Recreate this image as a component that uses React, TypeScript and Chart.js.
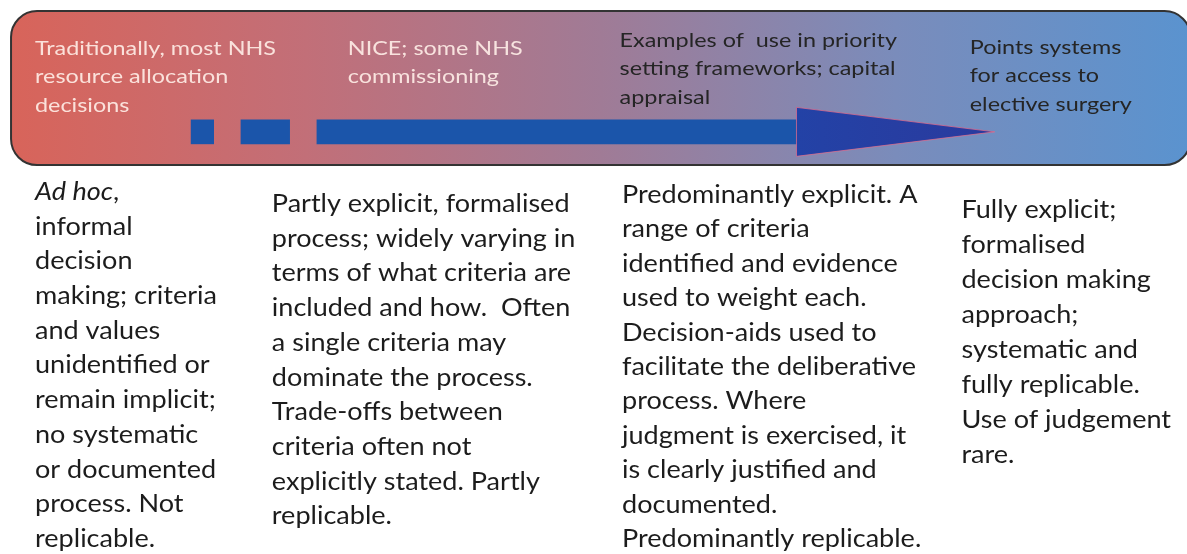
import React, { useEffect, useRef } from "react";
import { Chart, registerables } from "chart.js";

Chart.register(...registerables);

const CANVAS_W = 1187;
const CANVAS_H = 554;

// ---- Data (continuum units: 0 = implicit ... 100 = explicit; rows 0..100 top to bottom) ----
const stageTitles: string[][] = [
  ["Traditionally, most NHS", "resource allocation", "decisions"],
  ["NICE; some NHS", "commissioning"],
  ["Examples of  use in priority", "setting frameworks; capital", "appraisal"],
  ["Points systems", "for access to", "elective surgery"],
];

const stageDescriptions: string[][] = [
  [
    "Ad hoc,",
    "informal",
    "decision",
    "making; criteria",
    "and values",
    "unidentified or",
    "remain implicit;",
    "no systematic",
    "or documented",
    "process. Not",
    "replicable.",
  ],
  [
    "Partly explicit, formalised",
    "process; widely varying in",
    "terms of what criteria are",
    "included and how.  Often",
    "a single criteria may",
    "dominate the process.",
    "Trade-offs between",
    "criteria often not",
    "explicitly stated. Partly",
    "replicable.",
  ],
  [
    "Predominantly explicit. A",
    "range of criteria",
    "identified and evidence",
    "used to weight each.",
    "Decision-aids used to",
    "facilitate the deliberative",
    "process. Where",
    "judgment is exercised, it",
    "is clearly justified and",
    "documented.",
    "Predominantly replicable.",
  ],
  [
    "Fully explicit;",
    "formalised",
    "decision making",
    "approach;",
    "systematic and",
    "fully replicable.",
    "Use of judgement",
    "rare.",
  ],
];

const italicPrefix = "Ad hoc";

// arrow: dashed lead-in segments and shaft (floating bars on the continuum)
const arrowSegments: [number, number][] = [
  [16.1, 18.0],
  [20.3, 24.4],
  [26.7, 67.2],
];
const arrowHeadRange: [number, number] = [67.1, 83.8];
const arrowRow = 23.8;

// band spanning the continuum
const bandRange: [number, number] = [0.93, 100.3];
const bandRows: [number, number] = [2.0, 29.8];

// ---- Layout (positions of the text blocks, in scale units) ----
const titleX = [2.95, 29.3, 52.2, 81.7];
const titleRow = [9.93, 9.93, 8.48, 9.75];
const titleColors = ["rgba(255,238,232,0.9)", "rgba(255,238,232,0.9)", "#252525", "#252525"];
const descX = [2.95, 22.9, 52.4, 81.0];
const descRow = [36.1, 38.27, 36.64, 39.35];
const descLineH = [34.7, 34.7, 34.4, 35.0];

const FONT_FAMILY = "Lato, 'Open Sans', 'Noto Sans', sans-serif";

export default function App() {
  const ref = useRef<HTMLCanvasElement | null>(null);

  useEffect(() => {
    document.body.style.margin = "0";
    const canvas = ref.current;
    if (!canvas) return;

    const bandPlugin = {
      id: "band",
      beforeDatasetsDraw(chart: any) {
        const { ctx, scales } = chart;
        const x = scales.x;
        const y = scales.y;
        const x0 = x.getPixelForValue(bandRange[0]);
        const x1 = x.getPixelForValue(bandRange[1]);
        const y0 = y.getPixelForValue(bandRows[0]);
        const y1 = y.getPixelForValue(bandRows[1]);
        ctx.save();
        const g = ctx.createLinearGradient(x0, 0, x1, 0);
        g.addColorStop(0, "#d8645a");
        g.addColorStop(0.25, "#c26f78");
        g.addColorStop(0.5, "#a07b96");
        g.addColorStop(0.75, "#7a8cbb");
        g.addColorStop(1, "#5a93cf");
        ctx.beginPath();
        ctx.roundRect(x0, y0, x1 - x0, y1 - y0, 26);
        ctx.fillStyle = g;
        ctx.fill();
        ctx.lineWidth = 2;
        ctx.strokeStyle = "#333333";
        ctx.stroke();
        ctx.restore();
      },
    };

    const drawBlock = (
      ctx: CanvasRenderingContext2D,
      lines: string[],
      x: number,
      y: number,
      lh: number,
      size: number,
      color: string,
      sx: number
    ) => {
      lines.forEach((line, i) => {
        const yy = y + i * lh;
        ctx.save();
        ctx.translate(x, yy);
        ctx.scale(sx, 1);
        ctx.fillStyle = color;
        ctx.textBaseline = "alphabetic";
        ctx.textAlign = "left";
        if (line.startsWith(italicPrefix)) {
          ctx.font = `italic ${size}px ${FONT_FAMILY}`;
          ctx.fillText(italicPrefix, 0, 0);
          const w = ctx.measureText(italicPrefix).width;
          ctx.font = `${size}px ${FONT_FAMILY}`;
          ctx.fillText(line.slice(italicPrefix.length), w, 0);
        } else {
          ctx.font = `${size}px ${FONT_FAMILY}`;
          ctx.fillText(line, 0, 0);
        }
        ctx.restore();
      });
    };

    const overlayPlugin = {
      id: "overlay",
      afterDatasetsDraw(chart: any) {
        const { ctx, scales } = chart;
        const x = scales.x;
        const y = scales.y;
        ctx.save();
        // arrow head
        const hx0 = x.getPixelForValue(arrowHeadRange[0]);
        const hx1 = x.getPixelForValue(arrowHeadRange[1]);
        const cy = y.getPixelForValue(arrowRow);
        const half = 24.5;
        ctx.beginPath();
        ctx.moveTo(hx0, cy - half);
        ctx.lineTo(hx1, cy);
        ctx.lineTo(hx0, cy + half);
        ctx.closePath();
        const hg = ctx.createLinearGradient(hx0, 0, hx1, 0);
        hg.addColorStop(0, "#2342a6");
        hg.addColorStop(1, "#2a3a9e");
        ctx.fillStyle = hg;
        ctx.fill();
        ctx.lineWidth = 1;
        ctx.strokeStyle = "rgba(225,110,140,0.75)";
        ctx.stroke();

        // title texts on the band
        const titleSize = 20;
        ctx.font = `${titleSize}px ${FONT_FAMILY}`;
        const tsx = 241 / ctx.measureText("Traditionally, most NHS").width;
        stageTitles.forEach((lines, i) => {
          drawBlock(
            ctx,
            lines,
            x.getPixelForValue(titleX[i]),
            y.getPixelForValue(titleRow[i]),
            28.3,
            titleSize,
            titleColors[i],
            tsx
          );
        });

        // description texts
        const descSize = 25;
        ctx.font = `${descSize}px ${FONT_FAMILY}`;
        const dsx = 182 / ctx.measureText("making; criteria").width;
        stageDescriptions.forEach((lines, i) => {
          drawBlock(
            ctx,
            lines,
            x.getPixelForValue(descX[i]),
            y.getPixelForValue(descRow[i]),
            descLineH[i],
            descSize,
            "#1c1c1c",
            dsx
          );
        });
        ctx.restore();
      },
    };

    const chart = new Chart(canvas, {
      type: "bar",
      data: {
        datasets: [
          {
            data: arrowSegments.map((s) => ({ x: s, y: arrowRow })) as any,
            backgroundColor: "#1b55aa",
            borderWidth: 0,
            barThickness: 24,
          },
        ],
      },
      options: {
        indexAxis: "y",
        responsive: false,
        animation: false,
        devicePixelRatio: 1,
        layout: { padding: 0 },
        plugins: {
          legend: { display: false },
          tooltip: { enabled: false },
        },
        scales: {
          x: { type: "linear", min: 0, max: 100, display: false, offset: false },
          y: { type: "linear", min: 0, max: 100, reverse: true, display: false, offset: false },
        },
      },
      plugins: [bandPlugin, overlayPlugin],
    });

    return () => chart.destroy();
  }, []);

  return (
    <div style={{ width: CANVAS_W, height: CANVAS_H, background: "#ffffff" }}>
      <canvas ref={ref} width={CANVAS_W} height={CANVAS_H} style={{ display: "block" }} />
    </div>
  );
}
